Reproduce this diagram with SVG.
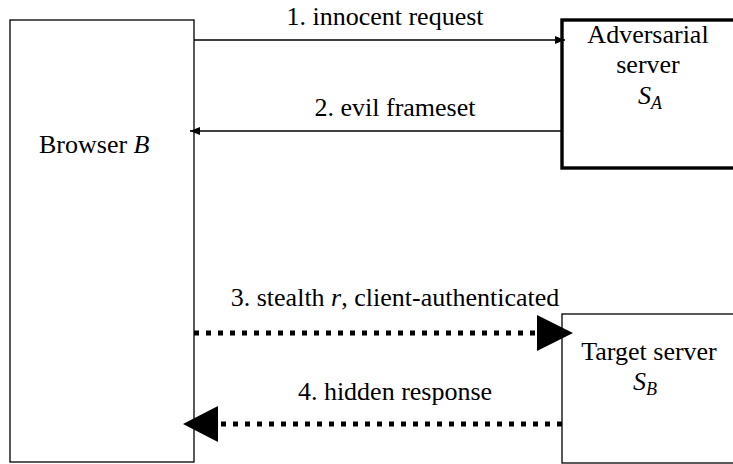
<svg xmlns="http://www.w3.org/2000/svg" width="733" height="464" viewBox="0 0 733 464">
<defs>
<marker id="sm" viewBox="0 0 10 8" refX="10" refY="4" markerWidth="10" markerHeight="8" markerUnits="userSpaceOnUse" orient="auto">
<path d="M0,0 L10,4 L0,8 Z" fill="#000"/>
</marker>
</defs>
<rect width="733" height="464" fill="#fff"/>
<g id="browser">
<rect x="10" y="20" width="184" height="442" fill="#fff" stroke="#000" stroke-width="1.3"/>
<text x="39" y="153" font-family="Times New Roman" font-size="26">Browser <tspan font-style="italic">B</tspan></text>
</g>
<g id="adversarial">
<rect x="562" y="20" width="180" height="148" fill="#fff" stroke="#000" stroke-width="3.4"/>
<text x="648" y="43" text-anchor="middle" font-family="Times New Roman" font-size="26">Adversarial</text>
<text x="648" y="73" text-anchor="middle" font-family="Times New Roman" font-size="26">server</text>
<text x="638" y="104" font-style="italic" font-family="Times New Roman" font-size="26">S<tspan font-size="18" dy="5">A</tspan></text>
</g>
<g id="target">
<rect x="562" y="314" width="180" height="149" fill="#fff" stroke="#000" stroke-width="1.3"/>
<text x="649" y="360" text-anchor="middle" font-family="Times New Roman" font-size="26">Target server</text>
<text x="633" y="390" font-style="italic" font-family="Times New Roman" font-size="26">S<tspan font-size="18" dy="5">B</tspan></text>
</g>
<g id="connectors">
<line x1="194" y1="40" x2="565" y2="40" stroke="#000" stroke-width="1.5" marker-end="url(#sm)"/>
<line x1="562" y1="131" x2="190" y2="131" stroke="#000" stroke-width="1.5" marker-end="url(#sm)"/>
<line x1="194" y1="333" x2="538" y2="333" stroke="#000" stroke-width="5" stroke-dasharray="5 7"/>
<path d="M537,315 L573,333 L537,351 Z" fill="#000"/>
<line x1="562" y1="424" x2="218" y2="424" stroke="#000" stroke-width="5" stroke-dasharray="5 7"/>
<path d="M218,406 L183,424 L218,442 Z" fill="#000"/>
<text x="385" y="25" text-anchor="middle" font-family="Times New Roman" font-size="26">1. innocent request</text>
<text x="395" y="116" text-anchor="middle" font-family="Times New Roman" font-size="26">2. evil frameset</text>
<text x="395" y="306" text-anchor="middle" font-family="Times New Roman" font-size="26">3. stealth <tspan font-style="italic">r</tspan>, client-authenticated</text>
<text x="395" y="400" text-anchor="middle" font-family="Times New Roman" font-size="26">4. hidden response</text>
</g>
</svg>
